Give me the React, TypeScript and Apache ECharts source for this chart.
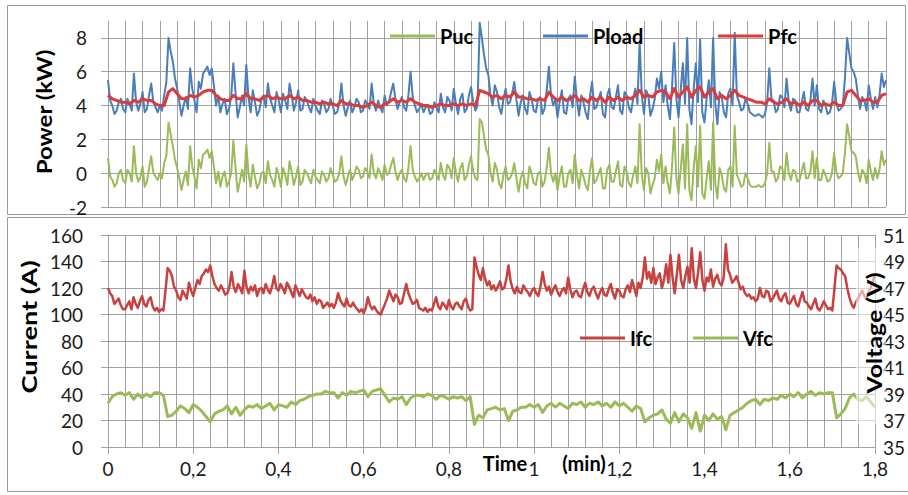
import React, { useEffect, useRef } from 'react';
import * as echarts from 'echarts';

// Time step (min) of the finely and coarsely sampled series
const STEP_FINE = 0.005;
const STEP_COARSE = 0.01;

// Pload (kW), sampled every 0.005 min
const pload = [
  5.5, 4.3, 4.0, 3.5, 3.7, 4.2, 4.4, 3.8, 3.6, 4.4,
  4.1, 3.7, 5.9, 4.2, 3.7, 4.1, 4.8, 3.6, 3.8, 4.6,
  5.3, 4.2, 3.9, 3.6, 4.0, 3.7, 4.6, 5.4, 8.0, 7.2,
  6.6, 5.6, 5.0, 4.2, 3.4, 4.0, 4.5, 3.8, 6.2, 5.0,
  4.3, 3.6, 5.4, 5.0, 5.9, 6.1, 6.3, 5.8, 6.2, 5.2,
  4.0, 4.6, 3.6, 4.1, 4.4, 3.5, 3.8, 4.5, 6.5, 4.8,
  3.3, 3.9, 4.6, 4.0, 6.4, 4.5, 3.6, 4.9, 4.2, 3.4,
  3.7, 4.4, 4.6, 3.9, 5.3, 4.4, 4.0, 3.6, 4.8, 4.3,
  3.6, 4.7, 4.3, 3.8, 5.3, 4.6, 3.7, 4.2, 4.9, 3.7,
  3.8, 4.5, 4.3, 3.9, 3.6, 4.4, 4.0, 3.7, 3.5, 4.3,
  4.1, 3.6, 3.8, 4.4, 4.0, 3.5, 3.6, 4.1, 5.3, 4.0,
  3.4, 3.9, 4.3, 3.6, 3.9, 4.4, 4.2, 3.6, 3.7, 4.3,
  4.1, 3.8, 5.3, 4.1, 3.7, 4.3, 3.9, 3.6, 4.6, 4.0,
  4.2, 4.8, 5.3, 4.4, 3.8, 4.2, 4.5, 3.9, 3.7, 4.6,
  6.0, 4.5, 4.0, 3.6, 3.8, 4.1, 3.6, 3.9, 4.0, 3.5,
  3.6, 4.2, 3.9, 3.6, 4.7, 3.9, 3.6, 4.5, 4.3, 3.7,
  5.0, 4.1, 3.5, 4.4, 4.7, 3.6, 3.8, 4.6, 5.1, 4.2,
  3.7, 4.0, 8.9, 8.0, 7.0, 6.2, 5.8, 4.6, 4.0, 5.2,
  4.8, 3.9, 3.5, 4.4, 5.0, 4.1, 4.2, 4.7, 5.4, 4.3,
  3.4, 4.2, 4.6, 3.8, 3.5, 4.8, 4.4, 3.7, 3.6, 4.4,
  4.5, 3.5, 3.8, 4.9, 6.3, 4.6, 4.0, 4.4, 3.3, 4.2,
  4.9, 3.6, 3.5, 4.4, 4.6, 3.9, 5.7, 4.3, 3.4, 4.6,
  4.2, 3.6, 3.2, 4.5, 5.4, 3.8, 3.9, 4.4, 4.8, 3.5,
  3.3, 4.6, 5.0, 3.9, 3.8, 4.5, 5.2, 3.7, 3.5, 4.8,
  4.6, 3.9, 3.6, 4.4, 5.0, 4.1, 7.8, 4.6, 3.5, 4.9,
  4.6, 3.4, 3.8, 4.4, 5.6, 5.0, 6.0, 4.2, 5.2, 4.0,
  3.2, 5.1, 7.7, 4.4, 3.3, 4.9, 6.5, 4.1, 8.0, 3.8,
  2.9, 5.0, 6.5, 4.2, 7.9, 3.6, 3.0, 4.4, 5.5, 3.9,
  8.0, 4.1, 2.9, 4.8, 4.5, 3.6, 3.3, 4.7, 5.0, 4.0,
  8.3, 4.6, 4.2, 3.7, 3.8, 4.4, 4.1, 3.6, 3.5, 3.4,
  3.4, 3.5, 3.4, 3.3, 3.5, 4.2, 6.2, 4.4, 4.3, 3.6,
  3.8, 4.6, 4.5, 3.9, 5.6, 4.2, 3.7, 4.4, 4.3, 3.6,
  3.6, 4.2, 4.8, 3.8, 3.7, 4.3, 5.6, 4.0, 5.2, 3.8,
  3.6, 4.3, 4.0, 3.5, 3.6, 4.1, 5.4, 4.2, 3.7, 3.8,
  4.0, 5.6, 8.0, 7.1, 6.2, 6.0, 5.6, 4.6, 3.8, 4.5,
  4.3, 3.7, 5.2, 4.4, 3.8, 4.5, 3.9, 4.6, 5.9, 5.1,
  5.5,
];

// Puc (kW), sampled every 0.005 min
const puc = [
  0.9, -0.2, -0.4, -0.8, -0.6, 0.0, 0.2, -0.4, -0.6, 0.2,
  0.0, -0.5, 1.6, 0.0, -0.5, -0.2, 0.4, -0.8, -0.5, 0.3,
  1.0, 0.0, -0.2, -0.4, 0.0, -0.3, 0.6, 1.0, 3.0, 2.3,
  1.6, 0.8, 0.3, -0.3, -1.0, -0.4, 0.1, -0.7, 1.6, 0.4,
  -0.2, -0.9, 0.8, 0.3, 1.1, 1.2, 1.4, 0.9, 1.3, 0.4,
  -0.6, 0.1, -0.8, -0.2, 0.1, -0.8, -0.5, 0.0, 1.9, 0.3,
  -1.1, -0.5, 0.2, -0.5, 1.7, 0.0, -0.8, 0.5, -0.2, -0.9,
  -0.6, 0.0, 0.1, -0.6, 0.7, -0.1, -0.4, -0.8, 0.3, -0.1,
  -0.8, 0.3, -0.1, -0.7, 0.7, 0.1, -0.7, -0.2, 0.4, -0.7,
  -0.5, 0.2, 0.0, -0.3, -0.6, 0.2, -0.2, -0.4, -0.6, 0.1,
  -0.1, -0.5, -0.3, 0.3, -0.1, -0.5, -0.4, 0.0, 1.0, -0.2,
  -0.7, -0.2, 0.2, -0.4, -0.1, 0.4, 0.2, -0.3, -0.2, 0.3,
  0.1, -0.3, 1.1, 0.0, -0.3, 0.3, 0.0, -0.4, 0.5, -0.1,
  0.0, 0.5, 0.9, 0.1, -0.4, 0.0, 0.2, -0.3, -0.5, 0.3,
  1.6, 0.2, -0.2, -0.5, -0.3, 0.0, -0.4, -0.1, 0.0, -0.4,
  -0.3, 0.2, -0.1, -0.4, 0.6, -0.1, -0.4, 0.5, 0.3, -0.3,
  0.9, 0.0, -0.5, 0.3, 0.6, -0.4, -0.2, 0.5, 1.0, 0.1,
  -0.3, -0.4, 3.2, 3.0, 2.2, 1.4, 1.1, 0.0, -0.5, 0.6,
  0.2, -0.6, -0.9, -0.1, 0.4, -0.4, -0.3, 0.0, 0.6, -0.3,
  -1.1, -0.3, 0.1, -0.6, -0.9, 0.4, 0.0, -0.6, -0.7, 0.0,
  0.1, -0.8, -0.5, 0.3, 1.5, 0.0, -0.5, 0.0, -1.0, -0.2,
  0.4, -0.8, -0.8, 0.0, 0.2, -0.6, 1.1, -0.1, -0.9, 0.2,
  -0.2, -0.7, -1.0, 0.1, 0.9, -0.6, -0.4, 0.0, 0.3, -0.9,
  -0.9, 0.2, 0.5, -0.5, -0.5, 0.1, 0.7, -0.7, -0.8, 0.4,
  0.1, -0.6, -0.8, -0.1, 0.4, -0.6, 2.9, -0.1, -1.0, 0.3,
  0.0, -1.2, -0.7, -0.3, 0.8, 0.1, 1.1, -0.6, 0.4, -0.6,
  -1.2, 0.4, 2.7, -0.3, -1.2, 0.2, 1.7, -0.9, 2.9, -1.0,
  -1.6, 0.3, 1.6, -0.8, 2.8, -1.2, -1.5, -0.3, 0.7, -1.0,
  3.0, -0.6, -1.5, 0.3, -0.1, -0.9, -1.1, 0.2, 0.4, -0.8,
  2.8, -0.1, -0.4, -0.8, -0.7, 0.0, -0.3, -0.7, -0.8, -0.8,
  -0.8, -0.7, -0.8, -0.8, -0.6, 0.0, 1.8, 0.1, 0.1, -0.5,
  -0.3, 0.4, 0.3, -0.4, 1.2, 0.0, -0.4, 0.2, 0.1, -0.5,
  -0.4, 0.1, 0.6, -0.3, -0.3, 0.1, 1.3, -0.3, 0.9, -0.4,
  -0.4, 0.2, -0.1, -0.5, -0.4, 0.0, 1.2, 0.1, -0.3, -0.2,
  0.0, 1.2, 2.9, 2.2, 1.3, 1.2, 1.0, 0.1, -0.5, 0.2,
  0.0, -0.6, 0.8, 0.1, -0.4, 0.3, -0.3, 0.2, 1.3, 0.5,
  0.8,
];

// Pfc (kW), sampled every 0.01 min
const pfc = [
  4.6, 4.4, 4.3, 4.2, 4.2, 4.1, 4.3, 4.2, 4.4, 4.3,
  4.3, 4.1, 4.0, 4.0, 4.8, 5.0, 4.7, 4.4, 4.4, 4.6,
  4.5, 4.6, 4.8, 4.9, 4.9, 4.6, 4.4, 4.3, 4.3, 4.6,
  4.4, 4.4, 4.7, 4.4, 4.4, 4.3, 4.5, 4.6, 4.4, 4.5,
  4.4, 4.4, 4.6, 4.4, 4.5, 4.3, 4.3, 4.2, 4.2, 4.1,
  4.2, 4.1, 4.1, 4.0, 4.3, 4.1, 4.1, 4.0, 4.0, 3.9,
  4.0, 4.2, 4.0, 3.9, 4.1, 4.2, 4.4, 4.2, 4.3, 4.2,
  4.4, 4.2, 4.1, 4.0, 4.0, 3.9, 4.0, 4.1, 4.0, 4.0,
  4.1, 4.0, 4.1, 4.0, 4.1, 4.0, 4.9, 4.8, 4.7, 4.5,
  4.6, 4.4, 4.6, 4.5, 4.8, 4.5, 4.5, 4.4, 4.4, 4.3,
  4.4, 4.3, 4.8, 4.5, 4.3, 4.5, 4.3, 4.4, 4.6, 4.3,
  4.4, 4.2, 4.5, 4.3, 4.5, 4.2, 4.5, 4.3, 4.5, 4.3,
  4.5, 4.4, 4.6, 4.9, 4.5, 4.6, 4.5, 4.8, 4.9, 4.8,
  4.4, 5.0, 4.5, 4.8, 5.1, 4.5, 4.9, 5.1, 4.5, 4.8,
  5.0, 4.4, 4.6, 4.4, 4.6, 4.9, 4.6, 4.5, 4.4, 4.3,
  4.2, 4.2, 4.1, 4.4, 4.2, 4.1, 4.2, 4.4, 4.1, 4.2,
  4.0, 4.2, 4.0, 4.3, 4.3, 4.0, 4.1, 4.0, 4.2, 4.0,
  4.0, 4.8, 4.9, 4.6, 4.3, 4.3, 4.4, 4.2, 4.2, 4.6, 4.7,
];

// Ifc (A), sampled every 0.005 min
const ifc = [
  120, 116, 114, 108, 110, 112, 107, 104, 104, 107,
  110, 104, 113, 108, 105, 110, 114, 108, 106, 111,
  113, 106, 103, 105, 102, 104, 103, 118, 135, 133,
  129, 121, 118, 113, 111, 118, 115, 112, 124, 118,
  114, 120, 126, 123, 129, 131, 134, 132, 137, 129,
  123, 120, 118, 122, 119, 115, 116, 121, 132, 121,
  117, 123, 120, 116, 133, 121, 116, 121, 118, 122,
  114, 119, 120, 116, 123, 119, 116, 121, 129, 120,
  118, 123, 120, 116, 124, 121, 117, 113, 122, 118,
  114, 119, 116, 113, 112, 115, 110, 113, 108, 111,
  110, 105, 107, 109, 106, 108, 105, 109, 116, 111,
  108, 106, 112, 107, 106, 109, 106, 104, 102, 104,
  101, 105, 113, 107, 104, 106, 103, 101, 100, 104,
  108, 112, 118, 114, 110, 115, 113, 108, 109, 116,
  123, 116, 112, 108, 109, 111, 105, 104, 103, 105,
  102, 104, 103, 108, 113, 106, 104, 109, 107, 104,
  111, 106, 104, 108, 109, 106, 104, 110, 112, 106,
  103, 104, 143, 136, 130, 126, 135, 127, 122, 125,
  119, 122, 118, 121, 125, 119, 120, 127, 137, 125,
  119, 116, 121, 117, 116, 122, 119, 117, 114, 118,
  120, 116, 114, 121, 132, 123, 118, 121, 115, 119,
  122, 117, 114, 118, 120, 116, 128, 119, 113, 117,
  118, 114, 113, 119, 124, 117, 114, 119, 121, 116,
  112, 117, 120, 115, 114, 119, 123, 116, 112, 119,
  118, 114, 113, 119, 122, 117, 126, 120, 114, 124,
  120, 128, 143, 127, 132, 124, 135, 123, 128, 131,
  120, 126, 138, 124, 145, 128, 116, 130, 145, 126,
  120, 129, 136, 124, 150, 127, 120, 132, 147, 126,
  118, 128, 125, 134, 121, 127, 130, 124, 122, 128,
  153, 134, 130, 124, 126, 129, 124, 119, 121, 116,
  114, 115, 112, 113, 110, 112, 120, 114, 113, 118,
  117, 110, 112, 115, 118, 112, 110, 114, 116, 109,
  108, 111, 114, 108, 106, 112, 117, 110, 109, 106,
  104, 108, 112, 105, 103, 106, 110, 107, 104, 105,
  103, 120, 137, 135, 134, 131, 129, 120, 113, 108,
  105, 109, 112, 115, 118, 114, 112, 117, 120, 125,
  130,
];

// Vfc (V), sampled every 0.01 min
const vfc = [
  38.3, 38.8, 39.0, 39.1, 38.9, 39.1, 38.6, 39.0, 38.7, 39.0,
  38.8, 39.1, 39.1, 38.9, 37.3, 37.4, 37.7, 38.1, 37.9, 37.6,
  38.2, 38.0, 37.7, 37.3, 36.9, 37.5, 37.7, 37.8, 38.1, 37.5,
  38.0, 37.4, 37.8, 38.1, 38.0, 38.2, 37.9, 38.1, 38.3, 37.8,
  38.2, 38.1, 38.0, 38.4, 38.2, 38.5, 38.6, 38.8, 38.9, 39.0,
  39.0, 39.2, 39.1, 39.1, 38.7, 39.1, 38.9, 39.2, 39.1, 39.2,
  39.3, 38.8, 39.2, 39.3, 39.4, 38.9, 38.4, 38.7, 38.6, 38.8,
  38.2, 38.7, 38.9, 38.9, 38.8, 39.0, 38.9, 38.6, 38.9, 38.8,
  38.6, 38.8, 38.7, 38.8, 38.5, 38.8, 36.7, 37.4, 37.2, 37.8,
  37.9, 38.0, 37.8, 37.9, 37.0, 37.7, 37.8, 38.0, 38.0, 38.2,
  38.0, 38.2, 37.6, 38.1, 38.3, 38.0, 38.3, 38.1, 37.9, 38.3,
  38.2, 38.4, 38.0, 38.3, 38.2, 38.4, 38.1, 38.3, 38.0, 38.4,
  38.1, 38.3, 38.0, 37.7, 38.1, 37.9, 36.9, 37.2, 37.4, 37.5,
  37.8, 37.1, 36.8, 37.6, 36.9, 37.5, 37.2, 36.4, 37.6, 36.2,
  37.4, 37.0, 37.5, 37.1, 37.3, 36.3, 37.4, 37.6, 37.8, 38.0,
  38.3, 38.5, 38.6, 38.2, 38.6, 38.5, 38.7, 38.6, 38.9, 38.7,
  39.0, 38.8, 39.1, 38.7, 39.0, 39.2, 38.9, 39.1, 39.0, 39.1,
  39.1, 37.2, 37.5, 37.9, 38.7, 39.0, 38.6, 38.5, 38.8, 38.4, 38.0,
];

const pairs = (arr: number[], step: number) =>
  arr.map((v, i) => [+(i * step).toFixed(3), v]);

const FONT = 'Lato';
const GRID = '#a0a0a0';
const BLUE = '#4a7ebb';
const RED_TOP = '#dc3b3b';
const RED_BOT = '#c8413f';
const GREEN = '#9bbb59';

const fmtX = (v: number) => String(Math.round(v * 10) / 10).replace('.', ',');

export default function App() {
  const ref = useRef<HTMLDivElement>(null);
  useEffect(() => {
    if (!ref.current) return;
    const chart = echarts.init(ref.current, undefined, { renderer: 'svg' });
    const legendBase: any = {
      icon: 'rect',
      itemWidth: 45,
      itemHeight: 3,
      padding: 0,
      itemGap: 0,
      selectedMode: false,
      textStyle: { fontFamily: FONT, fontWeight: 'bold', fontSize: 20, color: '#000' },
    };
    const xBase: any = {
      type: 'value',
      min: 0,
      max: 1.8,
      interval: 0.2,
      splitLine: { show: true, lineStyle: { color: GRID, width: 1 } },
      minorTick: { show: false, splitNumber: 5 },
      minorSplitLine: { show: true, lineStyle: { color: GRID, width: 1 } },
    };
    const txtStyle = (text: string) => ({
      text,
      font: `bold 20px ${FONT}`,
      fill: '#000',
      align: 'center',
      verticalAlign: 'middle',
      textAlign: 'center',
      textVerticalAlign: 'middle',
    });
    const rotTitle = (text: string, x: number, y: number, sx: number) => ({
      type: 'text',
      x,
      y,
      rotation: Math.PI / 2,
      scaleX: sx,
      z: 101,
      style: txtStyle(text),
    });
    const lineSeries = (name: string, data: number[][], color: string, width: number, xi: number, yi: number, z: number) => ({
      name,
      type: 'line',
      xAxisIndex: xi,
      yAxisIndex: yi,
      data,
      showSymbol: false,
      symbol: 'none',
      color,
      lineStyle: { color, width, join: 'round' },
      emphasis: { disabled: true },
      z,
    });
    chart.setOption({
      animation: false,
      textStyle: { fontFamily: FONT },
      grid: [
        { left: 108, top: 21, width: 778, height: 186 },
        { left: 108, top: 235, width: 778, height: 212 },
      ],
      xAxis: [
        {
          ...xBase,
          gridIndex: 0,
          axisLine: { show: false },
          axisTick: { show: false },
          axisLabel: { show: false },
        },
        {
          ...xBase,
          gridIndex: 1,
          axisLine: { show: true, lineStyle: { color: GRID } },
          axisTick: { show: true, length: 7, lineStyle: { color: GRID } },
          axisLabel: {
            show: true,
            margin: 12,
            fontSize: 19,
            color: '#1a1a1a',
            fontFamily: FONT,
            formatter: fmtX,
          },
        },
      ],
      yAxis: [
        {
          type: 'value',
          gridIndex: 0,
          min: -2,
          max: 9,
          interval: 2,
          axisLine: { show: true, lineStyle: { color: GRID } },
          axisTick: { show: true, length: 7, lineStyle: { color: GRID } },
          splitLine: { show: true, showMaxLine: false, lineStyle: { color: GRID } },
          axisLabel: {
            margin: 21,
            fontSize: 19,
            color: '#1a1a1a',
            fontFamily: FONT,
            showMaxLabel: false,
          },
        },
        {
          type: 'value',
          gridIndex: 1,
          min: 0,
          max: 160,
          interval: 20,
          axisLine: { show: true, lineStyle: { color: GRID } },
          axisTick: { show: true, length: 7, lineStyle: { color: GRID } },
          splitLine: { show: true, lineStyle: { color: GRID } },
          axisLabel: { margin: 25, fontSize: 19, color: '#1a1a1a', fontFamily: FONT },
        },
        {
          type: 'value',
          gridIndex: 1,
          position: 'right',
          min: 35,
          max: 51,
          alignTicks: true,
          axisLine: { show: true, lineStyle: { color: GRID } },
          axisTick: { show: false },
          splitLine: { show: false },
          axisLabel: { margin: 8, fontSize: 19, color: '#1a1a1a', fontFamily: FONT },
        },
      ],
      legend: [
        { ...legendBase, data: ['Puc'], left: 390, top: 26 },
        { ...legendBase, data: ['Pload'], left: 543, top: 26 },
        { ...legendBase, data: ['Pfc'], left: 718, top: 26 },
        { ...legendBase, data: ['Ifc'], left: 580, top: 328 },
        { ...legendBase, data: ['Vfc'], left: 693, top: 328 },
      ],
      series: [
        lineSeries('Puc', pairs(puc, STEP_FINE), GREEN, 2, 0, 0, 2),
        lineSeries('Pload', pairs(pload, STEP_FINE), BLUE, 2, 0, 0, 3),
        lineSeries('Pfc', pairs(pfc, STEP_COARSE), RED_TOP, 3, 0, 0, 4),
        lineSeries('Ifc', pairs(ifc, STEP_FINE), RED_BOT, 2.5, 1, 1, 3),
        lineSeries('Vfc', pairs(vfc, STEP_COARSE), GREEN, 3, 1, 2, 3),
      ],
      graphic: [
        {
          type: 'rect', z: -10, silent: true,
          shape: { x: 7.5, y: 5.5, width: 898, height: 209 },
          style: { fill: 'none', stroke: '#9a9a9a', lineWidth: 1 },
        },
        {
          type: 'rect', z: -10, silent: true,
          shape: { x: 7.5, y: 217.5, width: 910, height: 274 },
          style: { fill: 'none', stroke: '#9a9a9a', lineWidth: 1 },
        },
        {
          type: 'rect', z: 100, silent: true,
          shape: { x: 856, y: 248, width: 30, height: 176 },
          style: { fill: 'rgba(255,255,255,0.55)' },
        },
        rotTitle('Power (kW)', 44, 112, 1.2),
        rotTitle('Current (A)', 29, 327, 1.36),
        rotTitle('Voltage (V)', 874, 333, 1.24),
        { type: 'text', x: 505, y: 463, z: 101, style: txtStyle('Time') },
        { type: 'text', x: 584, y: 463, z: 101, style: txtStyle('(min)') },
      ],
    });
    return () => chart.dispose();
  }, []);
  return (
    <div
      ref={ref}
      style={{ position: 'fixed', left: 0, top: 0, width: 908, height: 495, background: '#fff' }}
    />
  );
}
